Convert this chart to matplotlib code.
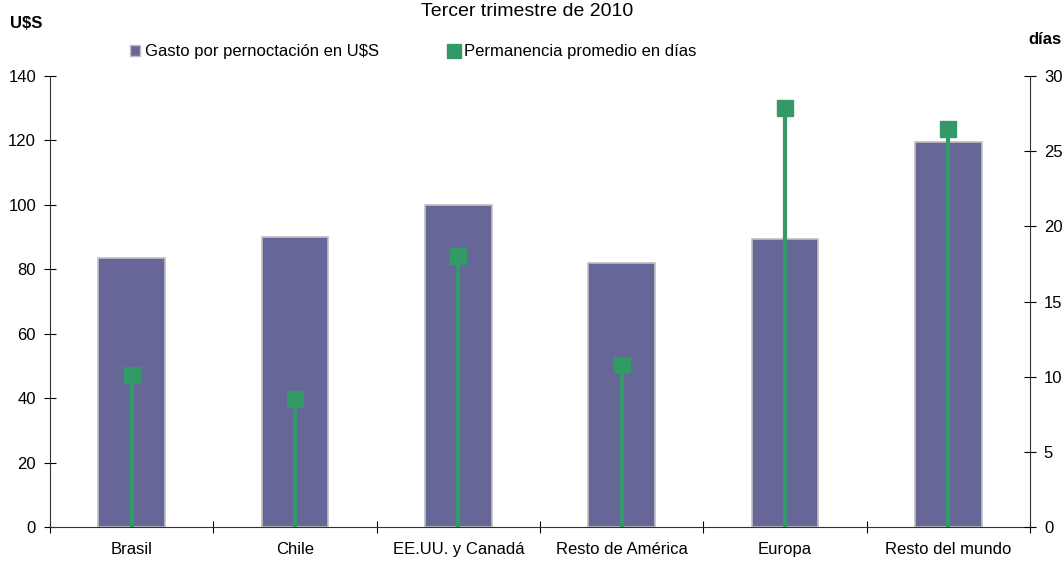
import numpy as np
import matplotlib.pyplot as plt
from matplotlib.lines import Line2D
from matplotlib.patches import Patch

plt.rcParams['font.family'] = ['Liberation Sans', 'DejaVu Sans']

categorias = ["Brasil", "Chile", "EE.UU. y Canadá", "Resto de América", "Europa", "Resto del mundo"]
gasto = [83.5, 90, 100, 82, 89.5, 119.5]
permanencia = [10.1, 8.5, 18.0, 10.8, 27.9, 26.5]

bar_color = "#666699"
green = "#339966"

fig = plt.figure(figsize=(10.64, 5.63), dpi=100)
ax = fig.add_axes([50 / 1064, 36 / 563, 980 / 1064, 451 / 563])
ax2 = ax.twinx()

x = np.arange(len(categorias)) + 0.5
ax.bar(x, gasto, 0.41, color=bar_color, edgecolor="#c0c0c0", linewidth=1.2, zorder=2)

ax2.vlines(x, 0, permanencia, color=green, linewidth=3, zorder=3)
ax2.plot(x, permanencia, "s", color=green, markersize=11, zorder=4)

ax.set_xlim(0, 6)
ax.set_ylim(0, 140)
ax2.set_ylim(0, 30)
ax.set_yticks(range(0, 141, 20))
ax2.set_yticks(range(0, 31, 5))
ax.set_xticks(np.arange(0, 7))
ax.set_xticklabels([])
ax.set_xticks(x, minor=True)
ax.set_xticklabels(categorias, minor=True)
ax.tick_params(axis="x", which="minor", length=0, pad=11, labelsize=12)
ax.tick_params(axis="x", which="major", direction="inout", length=8)
ax.tick_params(axis="y", direction="inout", length=8, labelsize=12, pad=6)
ax2.tick_params(axis="y", direction="inout", length=8, labelsize=12, pad=6)

for a in (ax, ax2):
    a.spines["top"].set_visible(False)
ax2.spines["left"].set_visible(False)
ax2.spines["bottom"].set_visible(False)
ax.spines["right"].set_visible(False)
for s in ("left", "bottom"):
    ax.spines[s].set_color("#333333")
ax2.spines["right"].set_color("#333333")

fig.text(0.495, 1 - 11 / 563, "Tercer trimestre de 2010", ha="center", va="center", fontsize=14)
fig.text(10 / 1064, 1 - 23 / 563, "U$S", ha="left", va="center", fontsize=12, fontweight="bold")
fig.text(1028 / 1064, 1 - 40 / 563, "días", ha="left", va="center", fontsize=12, fontweight="bold")

handles = [
    Patch(facecolor=bar_color, edgecolor="#c0c0c0"),
    Line2D([], [], marker="s", color=green, linestyle="none", markersize=10),
]
fig.legend(handles, ["Gasto por pernoctación en U$S", "Permanencia promedio en días"],
           loc="center left", bbox_to_anchor=(115 / 1064, 1 - 52 / 563), ncol=2,
           frameon=False, fontsize=12, handlelength=0.6, handletextpad=0.3,
           columnspacing=4.2)

plt.savefig("out.png", dpi=100)
